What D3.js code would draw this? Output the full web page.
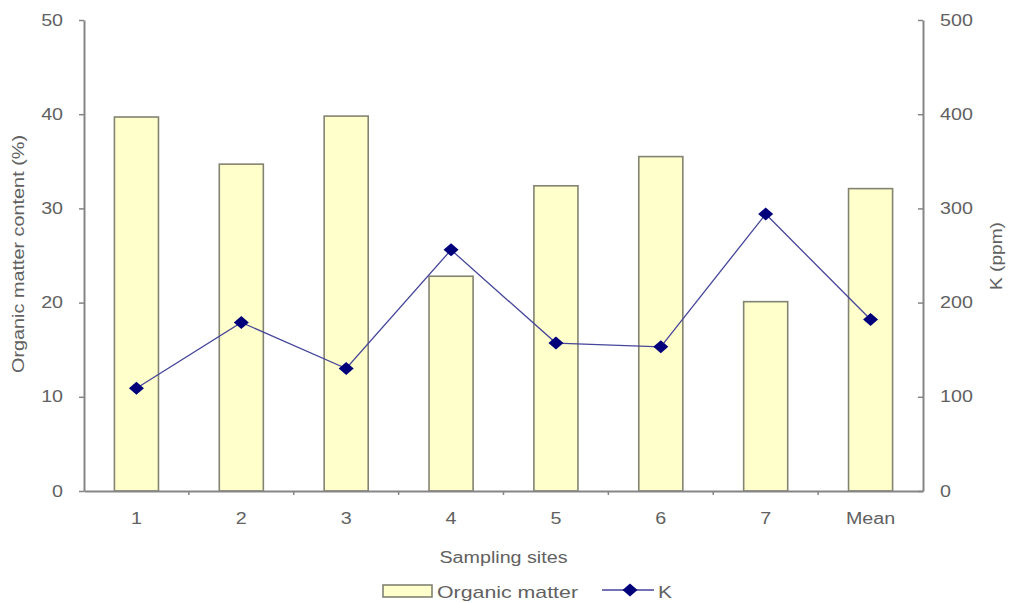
<!DOCTYPE html>
<html>
<head>
<meta charset="utf-8">
<script src="https://cdn.jsdelivr.net/npm/d3@7"></script>
<style>
  html, body { margin: 0; padding: 0; background: #fff; }
  svg { display: block; font-family: "Liberation Sans", Arial, sans-serif; }
</style>
</head>
<body>
<svg id="chart" width="1009" height="603"></svg>
<script>
const categories = ["1", "2", "3", "4", "5", "6", "7", "Mean"];
const organicMatter = [39.7, 34.7, 39.8, 22.8, 32.4, 35.5, 20.1, 32.1];
const potassium = [109, 179, 130, 256, 157, 153, 294, 182];
const leftTicks = [0, 10, 20, 30, 40, 50];
const rightTicks = [0, 100, 200, 300, 400, 500];
const seriesNames = ["Organic matter", "K"];
const xTitle = "Sampling sites";
const yLeftTitle = "Organic matter content (%)";
const yRightTitle = "K (ppm)";

(function () {
const svg = d3.select("#chart");
const pLeft = 84, pRight = 923, pTop = 20, pBottom = 491;
const axisColor = "#858585", textColor = "#616161";
const barFill = "#ffffcc", barStroke = "#838372";
const lineColor = "#45459a", markerColor = "#00007a";
const stretch = 1.23;

const x = d3.scaleBand().domain(categories).range([pLeft, pRight]).paddingInner(0.58).paddingOuter(0.29);
const yL = d3.scaleLinear().domain([0, 50]).range([pBottom, pTop]);
const yR = d3.scaleLinear().domain([0, 500]).range([pBottom, pTop]);

// bars
svg.append("g").selectAll("rect").data(categories).join("rect")
  .attr("x", d => x(d))
  .attr("y", (d, i) => yL(organicMatter[i]))
  .attr("width", x.bandwidth())
  .attr("height", (d, i) => yL(0) - yL(organicMatter[i]))
  .attr("fill", barFill).attr("stroke", barStroke).attr("stroke-width", 1.6);

// axes
function styleAxis(g) {
  g.selectAll(".domain").attr("stroke", axisColor).attr("stroke-width", 2);
  g.selectAll(".tick line").attr("stroke", axisColor).attr("stroke-width", 1.5);
  g.selectAll(".tick text").attr("fill", textColor).attr("font-size", 16)
    .attr("font-family", "Liberation Sans, Arial, sans-serif");
}
svg.append("g").attr("transform", `translate(${pLeft},0)`)
  .call(d3.axisLeft(yL).tickValues(leftTicks).tickSizeOuter(0).tickSizeInner(5).tickPadding(16))
  .call(styleAxis);
svg.append("g").attr("transform", `translate(${pRight},0)`)
  .call(d3.axisRight(yR).tickValues(rightTicks).tickSizeOuter(0).tickSizeInner(-5).tickPadding(17))
  .call(styleAxis);
const xg = svg.append("g").attr("transform", `translate(0,${pBottom})`)
  .call(d3.axisBottom(x).tickSizeOuter(0).tickSizeInner(0).tickPadding(22))
  .call(styleAxis);
// tick marks between categories
const step = x.step();
xg.selectAll("line.sep").data(d3.range(1, categories.length)).join("line")
  .attr("class", "sep")
  .attr("x1", i => x(categories[i]) - x.paddingInner() * step / 2)
  .attr("x2", i => x(categories[i]) - x.paddingInner() * step / 2)
  .attr("y1", 0).attr("y2", 4)
  .attr("stroke", axisColor).attr("stroke-width", 1.5);

// K line
const cx = d => x(d) + x.bandwidth() / 2;
const line = d3.line().x((d, i) => cx(categories[i])).y(d => yR(d));
svg.append("path").datum(potassium).attr("d", line)
  .attr("fill", "none").attr("stroke", lineColor).attr("stroke-width", 1.3);
const diamond = "M0,-6.5L7.5,0L0,6.5L-7.5,0Z";
svg.append("g").selectAll("path").data(potassium).join("path")
  .attr("d", diamond)
  .attr("transform", (d, i) => `translate(${cx(categories[i])},${yR(d)})`)
  .attr("fill", markerColor);

// titles
svg.append("text").attr("class", "stretch").attr("x", (pLeft + pRight) / 2).attr("y", 563)
  .attr("text-anchor", "middle").attr("font-size", 16).attr("fill", textColor).text(xTitle);
svg.append("text").attr("transform", "translate(24,254) rotate(-90)")
  .attr("text-anchor", "middle").attr("font-size", 16).attr("fill", textColor)
  .attr("textLength", 238).attr("lengthAdjust", "spacingAndGlyphs").text(yLeftTitle);
svg.append("text").attr("transform", "translate(1002,256) rotate(-90)")
  .attr("text-anchor", "middle").attr("font-size", 16).attr("fill", textColor)
  .attr("textLength", 68).attr("lengthAdjust", "spacingAndGlyphs").text(yRightTitle);

// legend
const lg = svg.append("g");
lg.append("rect").attr("x", 383).attr("y", 585).attr("width", 49).attr("height", 12)
  .attr("fill", barFill).attr("stroke", barStroke).attr("stroke-width", 1.6);
lg.append("text").attr("x", 437).attr("y", 598).attr("font-size", 17).attr("fill", textColor)
  .attr("textLength", 141).attr("lengthAdjust", "spacingAndGlyphs").text(seriesNames[0]);
lg.append("line").attr("x1", 602).attr("x2", 654).attr("y1", 590).attr("y2", 590)
  .attr("stroke", lineColor).attr("stroke-width", 1.3);
lg.append("path").attr("d", diamond).attr("transform", "translate(630,590)").attr("fill", markerColor);
lg.append("text").attr("x", 658).attr("y", 598).attr("font-size", 17).attr("fill", textColor)
  .attr("textLength", 14).attr("lengthAdjust", "spacingAndGlyphs").text(seriesNames[1]);

// horizontal stretch of tick labels and x title to mimic the reference
svg.selectAll(".tick text, text.stretch").each(function() {
  const len = this.getComputedTextLength();
  d3.select(this).attr("textLength", len * stretch).attr("lengthAdjust", "spacingAndGlyphs");
});
})();
</script>
</body>
</html>
